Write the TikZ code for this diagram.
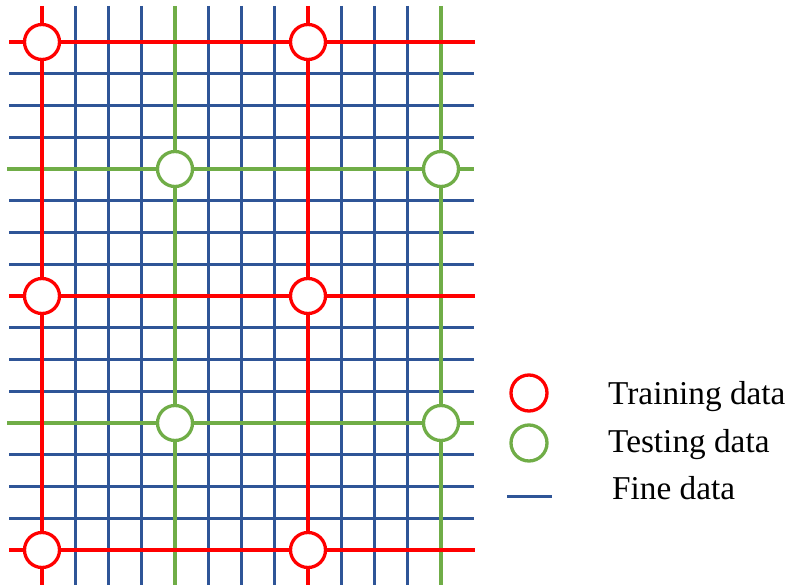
\documentclass[tikz,border=0pt]{standalone}
\usepackage{fontspec}
\setmainfont{Liberation Serif}
\definecolor{rd}{RGB}{255,0,0}
\definecolor{gn}{RGB}{112,173,71}
\definecolor{bl}{RGB}{47,85,151}
\begin{document}
\begin{tikzpicture}[x=1pt,y=-1pt,
  fineline/.style={bl,line width=3pt},
  testline/.style={gn,line width=4.5pt},
  trainline/.style={rd,line width=4.5pt},
  train/.style={circle,draw=rd,fill=white,line width=3.3pt,minimum size=35pt,inner sep=0pt},
  test/.style={circle,draw=gn,fill=white,line width=3.3pt,minimum size=35pt,inner sep=0pt},
  lbl/.style={anchor=base west,inner sep=0pt,font=\fontsize{33.3}{40}\selectfont}]
\useasboundingbox (0,0) rectangle (788,585);
% fine grid
\foreach \k in {1,2,3,5,6,7,9,10,11,13,14,15}{
  \coordinate (hl\k) at (9,42+\k*31.75);
  \coordinate (hr\k) at (474,42+\k*31.75);
  \draw[fineline] (hl\k) -- (hr\k);
}
\foreach \j in {1,2,3,5,6,7,9,10,11}{
  \coordinate (vt\j) at (42+\j*33.25,6);
  \coordinate (vb\j) at (42+\j*33.25,585);
  \draw[fineline] (vt\j) -- (vb\j);
}
% testing lines
\foreach \k in {4,12}{
  \coordinate (gl\k) at (7,42+\k*31.75);
  \coordinate (gr\k) at (474,42+\k*31.75);
  \draw[testline] (gl\k) -- (gr\k);
}
\foreach \j in {4,12}{
  \coordinate (gt\j) at (42+\j*33.25,6);
  \coordinate (gb\j) at (42+\j*33.25,585);
  \draw[testline] (gt\j) -- (gb\j);
}
% training lines
\foreach \k in {0,8,16}{
  \coordinate (rl\k) at (9,42+\k*31.75);
  \coordinate (rr\k) at (475,42+\k*31.75);
  \draw[trainline] (rl\k) -- (rr\k);
}
\foreach \j in {0,8}{
  \coordinate (rt\j) at (42+\j*33.25,6);
  \coordinate (rb\j) at (42+\j*33.25,585);
  \draw[trainline] (rt\j) -- (rb\j);
}
% data points
\node[train] (a1) at (42,42) {};
\node[train] (a2) at (308,42) {};
\node[train] (a3) at (42,296) {};
\node[train] (a4) at (308,296) {};
\node[train] (a5) at (42,550) {};
\node[train] (a6) at (308,550) {};
\node[test] (b1) at (175,169) {};
\node[test] (b2) at (441,169) {};
\node[test] (b3) at (175,423) {};
\node[test] (b4) at (441,423) {};
% legend
\node[train,minimum size=36pt] (la) at (529,393) {};
\node[test,minimum size=36pt] (lb) at (529,443) {};
\coordinate (lc1) at (507,497);
\coordinate (lc2) at (552,497);
\draw[fineline] (lc1) -- (lc2);
\node[lbl] (ta) at (608,405) {Training data};
\node[lbl] (tb) at (608,453) {Testing data};
\node[lbl] (tc) at (612,500) {Fine data};
\end{tikzpicture}
\end{document}
